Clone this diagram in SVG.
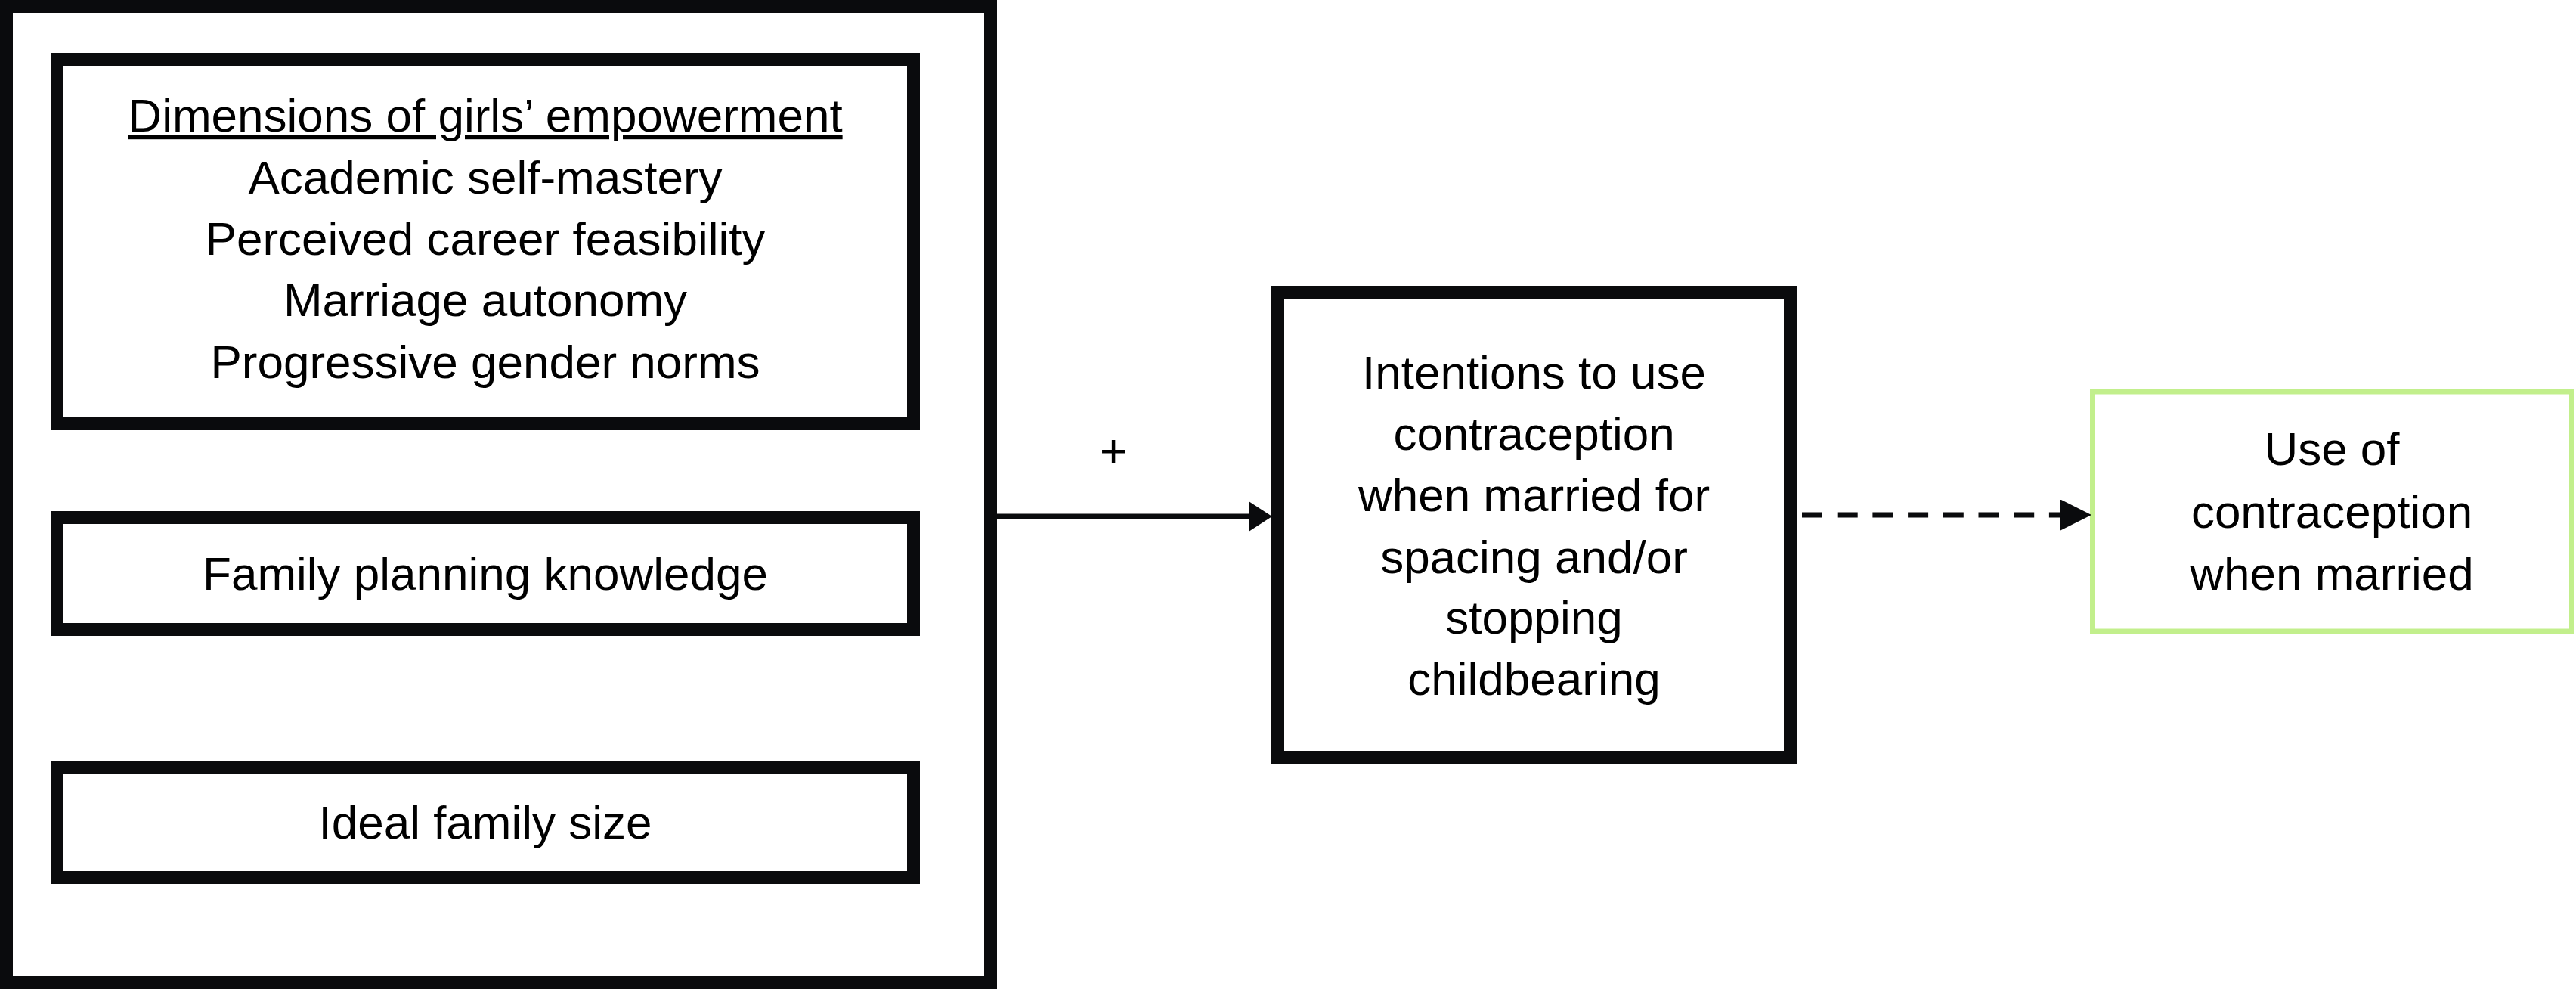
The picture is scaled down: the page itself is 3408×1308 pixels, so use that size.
<svg xmlns="http://www.w3.org/2000/svg" width="3408" height="1308" viewBox="0 0 3408 1308">
  <style>
    .box { fill: #ffffff; stroke: #0a0b0d; stroke-width: 17; }
    .gbox { fill: #ffffff; stroke: #c2ef8c; stroke-width: 7; }
    .t { font-family: "Liberation Sans", Arial, sans-serif; font-size: 62px; fill: #000000; text-anchor: middle; }
    .u { text-decoration: underline; }
    .line { stroke: #0a0b0d; stroke-width: 7; fill: none; }
    .dash { stroke-dasharray: 27 19.7; }
  </style>
  <defs>
    <marker id="headA" markerUnits="userSpaceOnUse" markerWidth="31" markerHeight="40" refX="0" refY="20" orient="auto">
      <path d="M0,0 L31,20 L0,40 Z" fill="#0a0b0d"/>
    </marker>
    <marker id="headB" markerUnits="userSpaceOnUse" markerWidth="41" markerHeight="41" refX="0" refY="20.5" orient="auto">
      <path d="M0,0 L41,20.5 L0,41 Z" fill="#0a0b0d"/>
    </marker>
  </defs>
  <rect width="3408" height="1308" fill="#ffffff"/>

  <g id="predictors">
    <rect class="box" x="8.5" y="8.5" width="1302" height="1291"/>
  </g>

  <g id="empowerment">
    <rect class="box" x="75.5" y="78.5" width="1133" height="482"/>
    <text class="t u" x="642" y="174">Dimensions of girls’ empowerment</text>
    <text class="t" x="642" y="256">Academic self-mastery</text>
    <text class="t" x="642" y="337">Perceived career feasibility</text>
    <text class="t" x="642" y="418">Marriage autonomy</text>
    <text class="t" x="642" y="500">Progressive gender norms</text>
  </g>

  <g id="fp-knowledge">
    <rect class="box" x="75.5" y="684.5" width="1133" height="148"/>
    <text class="t" x="642" y="780">Family planning knowledge</text>
  </g>

  <g id="family-size">
    <rect class="box" x="75.5" y="1015.5" width="1133" height="145"/>
    <text class="t" x="642" y="1109">Ideal family size</text>
  </g>

  <g id="intentions">
    <rect class="box" x="1690.5" y="386.5" width="678" height="615"/>
    <text class="t" x="2029.5" y="514">Intentions to use</text>
    <text class="t" x="2029.5" y="595">contraception</text>
    <text class="t" x="2029.5" y="676">when married for</text>
    <text class="t" x="2029.5" y="758">spacing and/or</text>
    <text class="t" x="2029.5" y="838">stopping</text>
    <text class="t" x="2029.5" y="919">childbearing</text>
  </g>

  <g id="use">
    <rect class="gbox" x="2768.5" y="518" width="634" height="317"/>
    <text class="t" x="3085" y="615">Use of</text>
    <text class="t" x="3085" y="698">contraception</text>
    <text class="t" x="3085" y="780">when married</text>
  </g>

  <g id="connectors">
    <line class="line" x1="1319" y1="683" x2="1652" y2="683" marker-end="url(#headA)"/>
    <text class="t" x="1473" y="617">+</text>
    <line class="line dash" x1="2384" y1="681" x2="2726" y2="681" marker-end="url(#headB)"/>
  </g>
</svg>
